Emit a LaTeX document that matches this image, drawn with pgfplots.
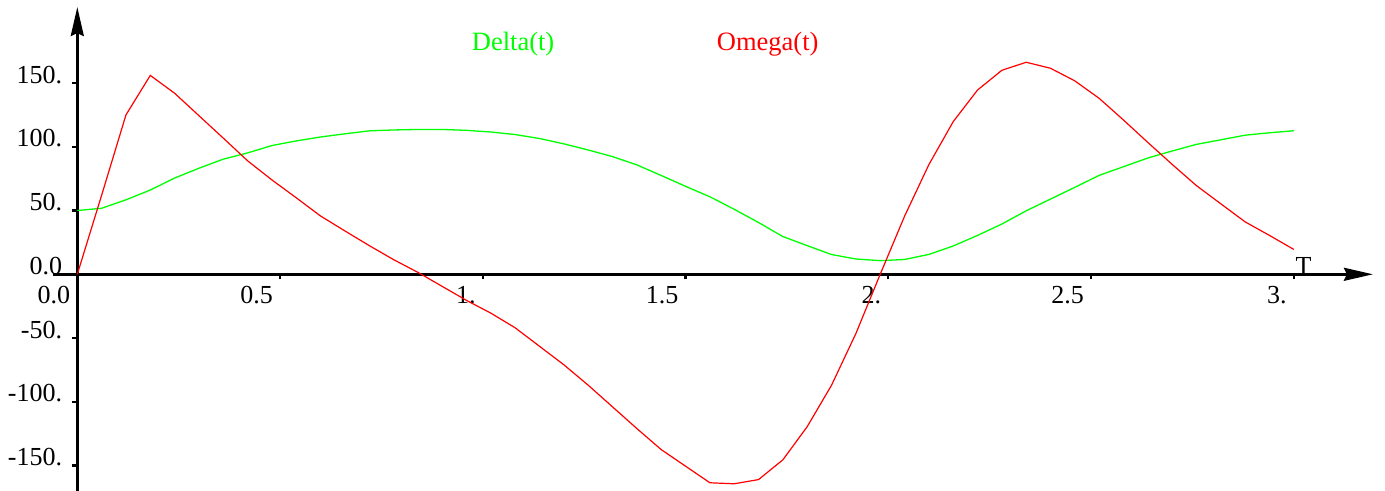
\documentclass[border=0pt]{standalone}
\usepackage{fontspec}
\setmainfont{Liberation Serif}
\usepackage{pgfplots}
\usepackage{pgfplotstable}
\pgfplotsset{compat=1.18}
\usetikzlibrary{arrows.meta}

% t, rotor angle Delta(t), speed deviation Omega(t)
\pgfplotstableread{
t     delta  omega
0.00  50.0     0.0
0.06  51.8    62.0
0.12  58.4   125.0
0.18  66.1   156.0
0.24  75.5   142.0
0.30  83.2   124.4
0.36  90.3   106.8
0.42  95.2    89.0
0.48 101.0    74.0
0.54 104.6    60.0
0.60 107.7    45.7
0.66 110.2    34.0
0.72 112.5    22.5
0.78 113.2    11.5
0.84 113.6     1.5
0.90 113.6    -9.5
0.96 112.9   -20.5
1.02 111.6   -30.5
1.08 109.6   -42.0
1.14 106.5   -56.5
1.20 102.3   -71.0
1.26  97.5   -87.0
1.32  92.3  -104.0
1.38  85.8  -121.0
1.44  77.5  -137.5
1.50  69.0  -150.5
1.56  60.8  -163.5
1.62  51.0  -164.3
1.68  40.6  -161.0
1.74  29.6  -145.5
1.80  22.5  -119.5
1.86  15.5   -87.0
1.92  12.0   -46.5
1.98  10.7     0.0
2.04  11.6    45.5
2.10  15.6    86.0
2.16  22.2   119.7
2.22  30.5   144.5
2.28  39.4   160.0
2.34  49.8   166.3
2.40  59.0   161.6
2.46  68.2   151.7
2.52  77.6   138.0
2.58  84.4   121.0
2.64  91.2   103.4
2.70  96.7    86.2
2.76 101.9    69.5
2.82 105.5    55.3
2.88 109.1    41.1
2.94 111.0    30.5
3.00 112.6    19.5
}\swing

\begin{document}
\begin{tikzpicture}
\begin{axis}[
    x=405.5bp, y=1.275bp,
    xmin=-0.06, xmax=3.195,
    ymin=-172, ymax=209.6,
    axis lines=middle,
    axis line style={line width=2.5bp, -{Stealth[length=29bp, width=13bp, inset=3bp]}},
    xtick={0,0.5,1,1.5,2,2.5,3},
    xticklabels={0.0,0.5,1.,1.5,2.,2.5,3.},
    ytick={-150,-100,-50,0,50,100,150},
    yticklabels={-150.,-100.,-50.,0.0,50.,100.,150.},
    hide obscured x ticks=false, hide obscured y ticks=false,
    tick align=outside, major tick length=5bp,
    tick style={line width=2.2bp, black},
    xticklabel style={anchor=north east, inner sep=0pt, xshift=-7bp, yshift=-7bp},
    yticklabel style={anchor=base east, inner sep=0pt, xshift=-10bp},
    every tick label/.append style={font=\fontsize{26bp}{30bp}\selectfont},
    clip=false,
]
\addplot[green, line width=1.3bp] table[x=t, y=delta] {\swing};
\addplot[red, line width=1.2bp] table[x=t, y=omega] {\swing};

\node[anchor=base west, inner sep=0pt, text=green, font=\fontsize{26.5bp}{30bp}\selectfont]
    at (axis cs:0.9726,175.9) {Delta(t)};
\node[anchor=base west, inner sep=0pt, text=red, font=\fontsize{26.5bp}{30bp}\selectfont]
    at (axis cs:1.5768,175.9) {Omega(t)};
\node[anchor=base west, inner sep=0pt, font=\fontsize{26bp}{30bp}\selectfont]
    at (axis cs:3.004,0) {T};
\coordinate (O) at (axis cs:0,0);
\end{axis}
\pgfresetboundingbox
\useasboundingbox ([shift={(-77.3bp,274.3bp)}]O) rectangle ([shift={(1307.7bp,-216.7bp)}]O);
\end{tikzpicture}
\end{document}
